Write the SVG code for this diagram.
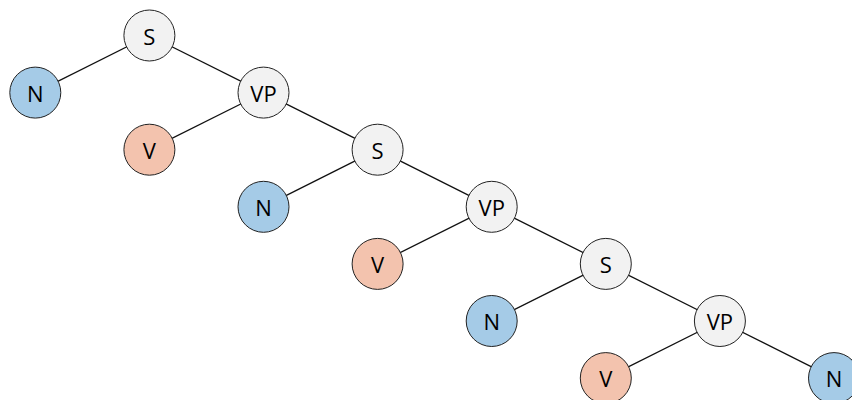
<svg xmlns="http://www.w3.org/2000/svg" width="852" height="400" viewBox="0 0 852 400">
<style>
.n circle{stroke:#222;stroke-width:1}
.g circle{fill:#f2f2f2}
.b circle{fill:#a5cbe7}
.o circle{fill:#f3c3ae}
text{font-family:"Open Sans","Noto Sans",sans-serif;font-size:22px;fill:#000;text-anchor:middle;dominant-baseline:central}
#edges line{stroke:#111;stroke-width:1.3}
</style>
<rect width="852" height="400" fill="#fff"/>
<g id="edges">
<line x1="149.4" y1="35.5" x2="35.3" y2="92.6"/>
<line x1="149.4" y1="35.5" x2="263.5" y2="92.6"/>
<line x1="263.5" y1="92.6" x2="149.4" y2="149.7"/>
<line x1="263.5" y1="92.6" x2="377.6" y2="149.7"/>
<line x1="377.6" y1="149.7" x2="263.5" y2="206.8"/>
<line x1="377.6" y1="149.7" x2="491.7" y2="206.8"/>
<line x1="491.7" y1="206.8" x2="377.6" y2="263.9"/>
<line x1="491.7" y1="206.8" x2="605.8" y2="263.9"/>
<line x1="605.8" y1="263.9" x2="491.7" y2="321"/>
<line x1="605.8" y1="263.9" x2="719.9" y2="321"/>
<line x1="719.9" y1="321" x2="605.8" y2="378.1"/>
<line x1="719.9" y1="321" x2="834" y2="378.1"/>
</g>
<g id="s1" class="n g"><circle cx="149.4" cy="35.5" r="25.5"/><text x="149.4" y="35.5">S</text></g>
<g id="n1" class="n b"><circle cx="35.3" cy="92.6" r="25.5"/><text x="35.3" y="92.6">N</text></g>
<g id="vp1" class="n g"><circle cx="263.5" cy="92.6" r="25.5"/><text x="263.5" y="92.6">VP</text></g>
<g id="v1" class="n o"><circle cx="149.4" cy="149.7" r="25.5"/><text x="149.4" y="149.7">V</text></g>
<g id="s2" class="n g"><circle cx="377.6" cy="149.7" r="25.5"/><text x="377.6" y="149.7">S</text></g>
<g id="n2" class="n b"><circle cx="263.5" cy="206.8" r="25.5"/><text x="263.5" y="206.8">N</text></g>
<g id="vp2" class="n g"><circle cx="491.7" cy="206.8" r="25.5"/><text x="491.7" y="206.8">VP</text></g>
<g id="v2" class="n o"><circle cx="377.6" cy="263.9" r="25.5"/><text x="377.6" y="263.9">V</text></g>
<g id="s3" class="n g"><circle cx="605.8" cy="263.9" r="25.5"/><text x="605.8" y="263.9">S</text></g>
<g id="n3" class="n b"><circle cx="491.7" cy="321" r="25.5"/><text x="491.7" y="321">N</text></g>
<g id="vp3" class="n g"><circle cx="719.9" cy="321" r="25.5"/><text x="719.9" y="321">VP</text></g>
<g id="v3" class="n o"><circle cx="605.8" cy="378.1" r="25.5"/><text x="605.8" y="378.1">V</text></g>
<g id="n4" class="n b"><circle cx="834" cy="378.1" r="25.5"/><text x="834" y="378.1">N</text></g>
</svg>
